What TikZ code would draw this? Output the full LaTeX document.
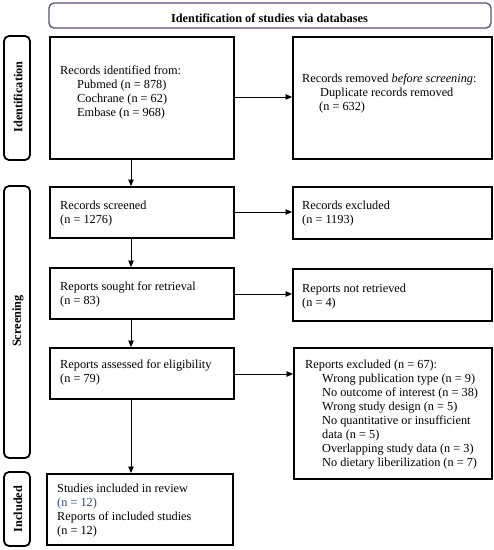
\documentclass[tikz,border=0pt]{standalone}
\usepackage{fontspec}
\setmainfont{Liberation Serif}
\usetikzlibrary{arrows.meta,calc}
\definecolor{hdrpurple}{HTML}{5E4A7E}
\definecolor{nblue}{HTML}{2F4A7A}
\begin{document}
\begin{tikzpicture}[x=1pt,y=-1pt,
  box/.style={draw=black,line width=1.8pt,fill=white},
  side/.style={draw=black,line width=1.8pt,rounded corners=5pt},
  sidelabel/.style={rotate=90,font=\bfseries\fontsize{12.3}{14}\selectfont},
  txt/.style={anchor=north west,align=left,inner sep=0pt,font=\fontsize{12.3}{14}\selectfont},
  arr/.style={-{Triangle[length=6.5pt,width=5.5pt]},line width=0.9pt}]
\useasboundingbox (0,0) rectangle (494,550);
\fill[white] (0,0) rectangle (494,550);
% header
\draw[draw=hdrpurple,line width=1.3pt,rounded corners=5pt] (49,3) rectangle (491,28);
\node[anchor=base,inner sep=0pt,font=\bfseries\fontsize{12.3}{14}\selectfont] (hdr) at (269.5,22) {Identification of studies via databases};
% side labels
\draw[side] (4,36) rectangle (30,160);
\node[sidelabel] (lid) at (18,97) {Identification};
\draw[side] (4,186) rectangle (30,458);
\node[sidelabel] (lsc) at (18,321) {Screening};
\draw[side] (4,472) rectangle (30,546);
\node[sidelabel] (lin) at (18,509) {Included};
% boxes
\node[box,minimum width=184pt,minimum height=122pt,anchor=north west] (b1) at (49,36) {};
\node[box,minimum width=199pt,minimum height=122pt,anchor=north west] (b2) at (292,36) {};
\node[box,minimum width=184pt,minimum height=51pt,anchor=north west] (b3) at (49,186) {};
\node[box,minimum width=199pt,minimum height=52pt,anchor=north west] (b4) at (292,186) {};
\node[box,minimum width=184pt,minimum height=51pt,anchor=north west] (b5) at (49,267) {};
\node[box,minimum width=199pt,minimum height=52pt,anchor=north west] (b6) at (292,268) {};
\node[box,minimum width=184pt,minimum height=51pt,anchor=north west] (b7) at (49,347) {};
\node[box,minimum width=198pt,minimum height=131pt,anchor=north west] (b8) at (293,347) {};
\node[box,minimum width=186pt,minimum height=71pt,anchor=north west] (b9) at (46,473) {};
% texts
\node[txt] (t1) at (60,64.2) {\strut Records identified from:\\\hspace*{17pt}Pubmed (n = 878)\\\hspace*{17pt}Cochrane (n = 62)\\\hspace*{17pt}Embase (n = 968)};
\node[txt] (t2) at (302,72.2) {\strut Records removed \textit{before screening}:\\\hspace*{18pt}Duplicate records removed\\\hspace*{17pt}(n = 632)};
\node[txt] (t3) at (60,199.2) {\strut Records screened\\(n = 1276)};
\node[txt] (t4) at (302,199.2) {\strut Records excluded\\(n = 1193)};
\node[txt] (t5) at (60,280.2) {\strut Reports sought for retrieval\\(n = 83)};
\node[txt] (t6) at (302,282.2) {\strut Reports not retrieved\\(n = 4)};
\node[txt] (t7) at (60,358.2) {\strut Reports assessed for eligibility\\(n = 79)};
\node[txt] (t8) at (305,358.2) {\strut Reports excluded (n = 67):\\
\hspace*{17pt}Wrong publication type (n = 9)\\
\hspace*{17pt}No outcome of interest (n = 38)\\
\hspace*{17pt}Wrong study design (n = 5)\\
\hspace*{17pt}No quantitative or insufficient\\
\hspace*{17pt}data (n = 5)\\
\hspace*{17pt}Overlapping study data (n = 3)\\
\hspace*{17pt}No dietary liberilization (n = 7)};
\node[txt] (t9) at (57,482.2) {\strut Studies included in review\\\textcolor{nblue}{(n = 12)}\\Reports of included studies\\(n = 12)};
% arrows
\draw[arr] (b1.east |- 0,97) -- (b2.west |- 0,97);
\draw[arr] (b3.east |- 0,212) -- (b4.west |- 0,212);
\draw[arr] (b5.east |- 0,294) -- (b6.west |- 0,294);
\draw[arr] (b7.east |- 0,374) -- (b8.west |- 0,374);
\draw[arr] (b1.south -| 131,0) -- (b3.north -| 131,0);
\draw[arr] (b3.south -| 131,0) -- (b5.north -| 131,0);
\draw[arr] (b5.south -| 131,0) -- (b7.north -| 131,0);
\draw[arr] (b7.south -| 131,0) -- (b9.north -| 131,0);
\end{tikzpicture}
\end{document}
